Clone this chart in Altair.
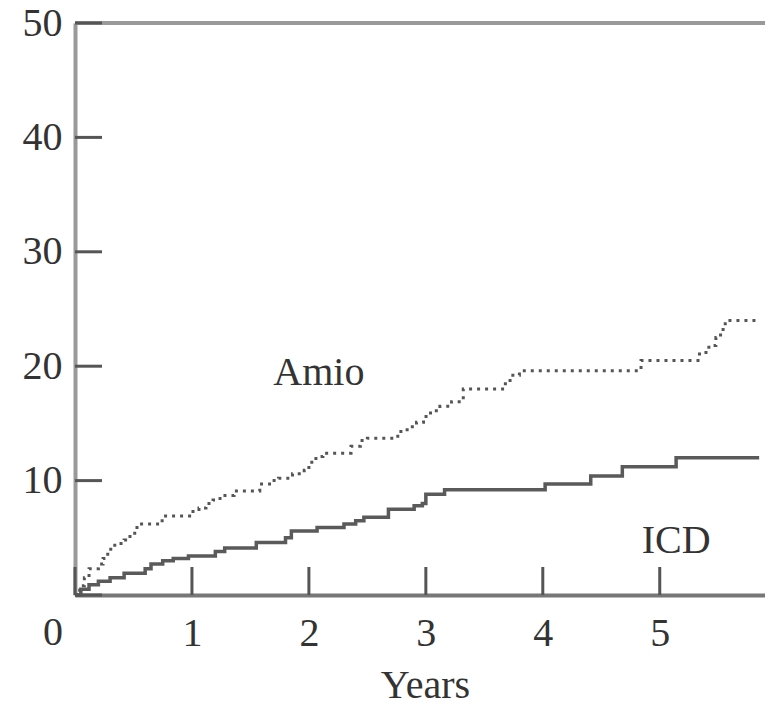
import altair as alt
import pandas as pd

# ---- data ----
years_amio = [0, 0.04, 0.08, 0.12, 0.2, 0.24, 0.28, 0.34, 0.42, 0.47, 0.53, 0.72, 0.76,
              0.98, 1.06, 1.12, 1.18, 1.24, 1.36, 1.58, 1.68, 1.74, 1.86, 1.96, 2.0,
              2.06, 2.12, 2.36, 2.44, 2.50, 2.76, 2.84, 2.92, 2.98, 3.04, 3.12, 3.22,
              3.32, 3.68, 3.72, 3.80, 4.84, 5.34, 5.42, 5.48, 5.52, 5.56, 5.85]
risk_amio = [0, 0.8, 1.5, 2.3, 2.7, 3.2, 4.0, 4.5, 4.8, 5.4, 6.2, 6.5, 6.9,
             7.3, 7.6, 8.0, 8.3, 8.7, 9.1, 9.7, 10.0, 10.2, 10.6, 10.9, 11.6,
             12.1, 12.4, 13.0, 13.5, 13.7, 14.3, 14.7, 15.1, 15.6, 16.1, 16.5, 16.9,
             18.0, 18.6, 19.2, 19.6, 20.5, 21.2, 21.8, 22.5, 23.2, 24.0, 24.0]

years_icd = [0, 0.05, 0.12, 0.2, 0.3, 0.42, 0.6, 0.65, 0.75, 0.84, 0.97, 1.2, 1.28,
             1.55, 1.8, 1.85, 2.07, 2.3, 2.4, 2.47, 2.68, 2.9, 2.97, 3.0, 3.16,
             4.02, 4.41, 4.68, 5.14, 5.85]
risk_icd = [0, 0.5, 0.9, 1.2, 1.5, 1.9, 2.3, 2.7, 3.0, 3.2, 3.4, 3.8, 4.1,
            4.6, 5.0, 5.6, 5.9, 6.2, 6.5, 6.8, 7.5, 7.8, 8.0, 8.8, 9.2,
            9.7, 10.4, 11.2, 12.0, 12.0]

x_tick_values = [0, 1, 2, 3, 4, 5]
y_tick_values = [0, 10, 20, 30, 40, 50]
x_label_values = [1, 2, 3, 4, 5]
y_label_values = [10, 20, 30, 40, 50]
series_names = ["Amio", "ICD"]
series_label_x = [2.085, 5.14]
series_label_y = [18.35, 3.67]
corner_label = ["0"]
x_title = "Years"

# ---- layout / style ----
W, H = 690, 572
FONT = "Liberation Serif"
FS = 40
TXT = "#333333"
X_MAX = 5.9

xs = alt.Scale(domain=[0, X_MAX], nice=False, zero=False)
ys = alt.Scale(domain=[0, 50], nice=False)

amio = pd.DataFrame({"t": years_amio, "v": risk_amio})
icd = pd.DataFrame({"t": years_icd, "v": risk_icd})
xt = pd.DataFrame({"t": x_tick_values})
yt = pd.DataFrame({"v": y_tick_values})
lab = pd.DataFrame({"t": series_label_x, "v": series_label_y, "name": series_names})
corner = pd.DataFrame({"t": [0], "v": [0], "name": corner_label})

x_axis = alt.Axis(values=x_label_values, format="d", ticks=False, tickSize=0, grid=False,
                  domainColor="#777777", domainWidth=4,
                  labelFont=FONT, labelFontSize=FS, labelColor=TXT,
                  labelBaseline="alphabetic", labelPadding=50, labelAlign="center",
                  labelFlush=False, labelOverlap=False, labelBound=False,
                  title=x_title, titleFont=FONT, titleFontSize=FS, titleColor=TXT,
                  titleFontWeight="normal", titleBaseline="alphabetic",
                  titleAlign="center", titleX=350, titleY=102)
y_axis = alt.Axis(values=y_label_values, format="d", ticks=False, tickSize=0, grid=False,
                  domainColor="#999999", domainWidth=4,
                  labelFont=FONT, labelFontSize=FS, labelColor=TXT,
                  labelPadding=13, labelFlush=False, labelOverlap=False, labelBound=False,
                  title="")

X = alt.X("t:Q", scale=xs, axis=x_axis)
Y = alt.Y("v:Q", scale=ys, axis=y_axis)

icd_line = alt.Chart(icd).mark_line(interpolate="step-after", color="#5a5a5a",
                                    strokeWidth=3.5).encode(x=X, y=Y)
amio_line = alt.Chart(amio).mark_line(interpolate="step-after", color="#555555",
                                      strokeWidth=3, strokeDash=[3, 5]).encode(x=X, y=Y)

top_rule = alt.Chart(yt).transform_filter(alt.datum.v == 50).mark_rule(
    color="#999999", strokeWidth=4).encode(y=Y, x=alt.value(0), x2=alt.value(W + 8))

y_ticks = alt.Chart(yt).mark_rule(color="#555555", strokeWidth=3).encode(
    y=Y, x=alt.value(0), x2=alt.value(27))
x_ticks = alt.Chart(xt).mark_rule(color="#555555", strokeWidth=3).encode(
    x=X, y=alt.value(H), y2=alt.value(H - 28))

labels = alt.Chart(lab).mark_text(font=FONT, fontSize=FS, color=TXT,
                                  baseline="alphabetic", align="center").encode(
    x=X, y=Y, text="name:N")
corner_txt = alt.Chart(corner).mark_text(font=FONT, fontSize=FS, color=TXT,
                                         baseline="alphabetic", align="center",
                                         dx=-22, dy=50).encode(
    x=X, y=Y, text="name:N")

chart = alt.layer(top_rule, icd_line, amio_line, y_ticks, x_ticks, labels, corner_txt).properties(
    width=W, height=H,
    padding={"left": 67, "top": 15, "right": 0, "bottom": 103},
    autosize=alt.AutoSizeParams(type="none"),
).configure_view(stroke=None).configure(background="white")

chart.save("out.html", embed_options={"renderer": "svg", "actions": False})
